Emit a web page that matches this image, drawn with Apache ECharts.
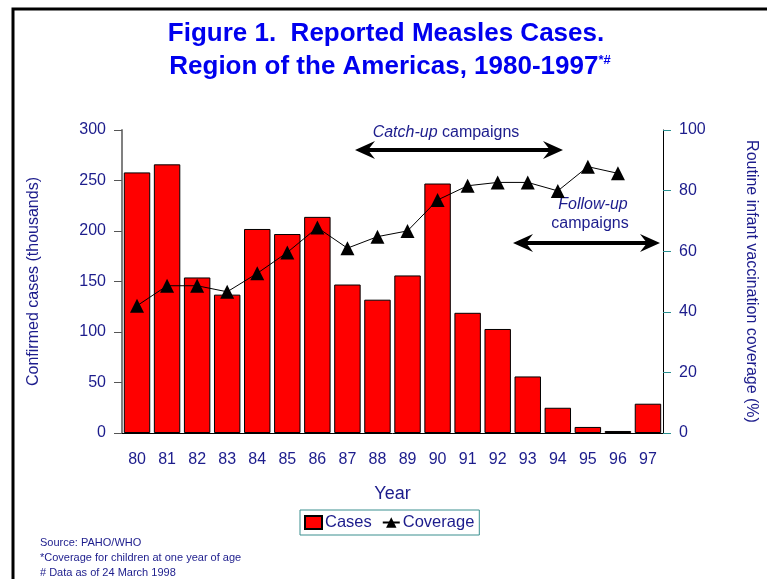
<!DOCTYPE html>
<html>
<head>
<meta charset="utf-8">
<script src="https://cdn.jsdelivr.net/npm/echarts@6/dist/echarts.min.js"></script>
<style>html,body{margin:0;padding:0;background:#fff;}#c{width:767px;height:579px;}</style>
</head>
<body>
<div id="c"></div>
<script>
const years = ['80','81','82','83','84','85','86','87','88','89','90','91','92','93','94','95','96','97'];
const cases = [258, 266, 154, 137, 202, 197, 214, 147, 132, 156, 247, 119, 103, 56, 25, 6, 2, 29];
const coverage = [42, 48.6, 48.6, 46.6, 52.7, 59.6, 67.8, 61, 64.8, 66.7, 76.9, 81.6, 82.7, 82.7, 79.9, 87.9, 85.7, null];
const leftTicks = [0, 50, 100, 150, 200, 250, 300];
const rightTicks = [0, 20, 40, 60, 80, 100];

const NAVY = '#1c1c8c';
const BLUE = '#0000ee';
const FONT = 'Liberation Sans, Arial, sans-serif';

function arrow(x1, x2, y) {
  const L = 20, H = 9, N = 13;
  return [
    {type:'line', shape:{x1:x1+N, y1:y, x2:x2-N, y2:y}, style:{stroke:'#000', lineWidth:4}},
    {type:'polygon', shape:{points:[[x1,y],[x1+L,y-H],[x1+N,y],[x1+L,y+H]]}, style:{fill:'#000'}},
    {type:'polygon', shape:{points:[[x2,y],[x2-L,y-H],[x2-N,y],[x2-L,y+H]]}, style:{fill:'#000'}}
  ];
}

const chart = echarts.init(document.getElementById('c'), null, {renderer:'canvas'});
chart.setOption({
  animation: false,
  backgroundColor: '#fff',
  textStyle: {fontFamily: FONT},
  grid: {left: 122, right: 102, top: 130, bottom: 146},
  legend: {
    left: 300, top: 510,
    data: [{name: 'Cases', icon: 'rect'}, {name: 'Coverage'}],
    borderColor: '#3a8f8f', borderWidth: 1, padding: [4, 5, 4, 4],
    itemGap: 10, itemWidth: 17, itemHeight: 13,
    textStyle: {color: NAVY, fontSize: 16.5, fontFamily: FONT, padding: [0, 0, 0, -2]}
  },
  xAxis: {
    type: 'category', data: years,
    name: 'Year', nameLocation: 'middle', nameGap: 52,
    nameTextStyle: {color: NAVY, fontSize: 18, fontFamily: FONT},
    axisLine: {lineStyle: {color: '#000', width: 1}},
    axisTick: {alignWithLabel: true, length: 8, lineStyle: {color: '#000'}},
    axisLabel: {color: NAVY, fontSize: 16, margin: 19, fontFamily: FONT}
  },
  yAxis: [
    {
      type: 'value', min: 0, max: 300, interval: 50,
      name: 'Confirmed cases (thousands)', nameLocation: 'middle', nameGap: 80,
      nameTextStyle: {color: NAVY, fontSize: 16, fontFamily: FONT},
      axisLine: {show: true, lineStyle: {color: '#808080', width: 2}},
      axisTick: {show: true, length: 8, lineStyle: {color: '#555'}},
      axisLabel: {color: NAVY, fontSize: 16, margin: 16, fontFamily: FONT},
      splitLine: {show: false}
    },
    {
      type: 'value', min: 0, max: 100, interval: 20, position: 'right',
      name: 'Routine infant vaccination coverage (%)', nameLocation: 'middle', nameGap: 80, nameRotate: -90,
      nameTextStyle: {color: NAVY, fontSize: 16, fontFamily: FONT},
      axisLine: {show: true, lineStyle: {color: '#000', width: 1}},
      axisTick: {show: true, length: 8, lineStyle: {color: '#2a9090'}},
      axisLabel: {color: NAVY, fontSize: 16, margin: 16, fontFamily: FONT},
      splitLine: {show: false}
    }
  ],
  series: [
    {
      name: 'Cases', type: 'bar', data: cases, yAxisIndex: 0,
      barCategoryGap: '12%',
      itemStyle: {color: '#ff0000', borderColor: '#000', borderWidth: 1}
    },
    {
      name: 'Coverage', type: 'line', data: coverage, yAxisIndex: 1,
      symbol: 'triangle', symbolSize: 14, connectNulls: false,
      lineStyle: {color: '#000', width: 1},
      itemStyle: {color: '#000'}
    }
  ],
  graphic: [
    {type:'rect', shape:{x:13, y:9, width:800, height:620}, style:{fill:'none', stroke:'#000', lineWidth:3}, silent:true, z:-1},
    {type:'text', x: 386, y: 21, style:{text:'Figure 1.  Reported Measles Cases.', textAlign:'center', font:'bold 26px ' + FONT, fill: BLUE}},
    {type:'text', x: 390, y: 54, style:{
      text:'{m|Region of the Americas, 1980-1997}{s|*#}', textAlign:'center', fill: BLUE,
      rich:{m:{font:'bold 26px ' + FONT, fill: BLUE, color: BLUE}, s:{font:'bold 13px ' + FONT, fill: BLUE, color: BLUE, verticalAlign:'top', padding:[0,0,12,0]}}
    }},
    {type:'text', x: 446, y: 125, style:{
      text:'{i|Catch-up} campaigns', textAlign:'center', font:'16px ' + FONT, fill: NAVY,
      rich:{i:{font:'italic 16px ' + FONT, fill: NAVY, color: NAVY}}
    }},
    {type:'text', x: 593, y: 197, style:{text:'Follow-up', textAlign:'center', font:'italic 16px ' + FONT, fill: NAVY}},
    {type:'text', x: 590, y: 216, style:{text:'campaigns', textAlign:'center', font:'16px ' + FONT, fill: NAVY}},
    ...arrow(355, 563, 150),
    ...arrow(513, 660, 243),
    {type:'text', x: 40, y: 537, style:{text:'Source: PAHO/WHO', font:'11px ' + FONT, fill: NAVY}},
    {type:'text', x: 40, y: 552, style:{text:'*Coverage for children at one year of age', font:'11px ' + FONT, fill: NAVY}},
    {type:'text', x: 40, y: 567, style:{text:'# Data as of 24 March 1998', font:'11px ' + FONT, fill: NAVY}}
  ]
});
</script>
</body>
</html>
